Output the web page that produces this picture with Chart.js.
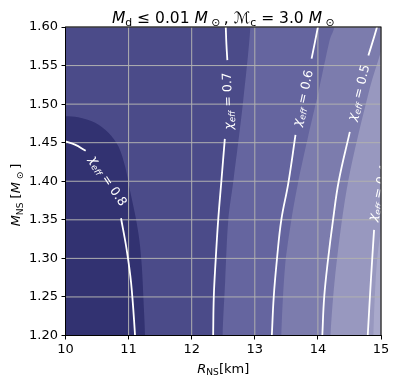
<!DOCTYPE html>
<html>
<head>
<meta charset="utf-8">
<script src="https://cdn.jsdelivr.net/npm/chart.js@4.4.0/dist/chart.umd.min.js"></script>
<style>
  html, body { margin: 0; padding: 0; background: #fff; }
  #wrap { width: 398px; height: 384px; }
</style>
</head>
<body>
<div id="wrap"><canvas id="chiChart" width="398" height="384"></canvas></div>
<script>
// contour lines of chi_eff, points are [R_NS km, M_NS Msun], split where the inline label sits
const chi08Upper = [[9.97, 1.4525], [10.15, 1.4474], [10.32, 1.4396]];
const chi08Lower = [[10.88, 1.352], [10.97, 1.311], [11.04, 1.268], [11.10, 1.203], [11.105, 1.19]];
const chi07Upper = [[12.535, 1.61], [12.54, 1.60], [12.55, 1.578], [12.565, 1.557]];
const chi07Lower = [[12.525, 1.455], [12.47, 1.40], [12.42, 1.35], [12.38, 1.298], [12.35, 1.25], [12.34, 1.20], [12.338, 1.19]];
const chi06Upper = [[14.02, 1.61], [14.0, 1.60], [13.9, 1.559]];
const chi06Lower = [[13.645, 1.46], [13.53, 1.397], [13.42, 1.35], [13.35, 1.298], [13.30, 1.25], [13.27, 1.20], [13.265, 1.19]];
const chi05Upper = [[14.96, 1.61], [14.93, 1.598], [14.80, 1.563]];
const chi05Lower = [[14.506, 1.464], [14.33, 1.40], [14.24, 1.35], [14.16, 1.298], [14.10, 1.25], [14.07, 1.20], [14.065, 1.19]];
const chi04Lower = [[14.89, 1.337], [14.84, 1.272], [14.79, 1.20], [14.785, 1.19]];

// edges of the filled bands (everything left of an edge is darker)
const fill08 = [[11.26, 1.2], [11.236, 1.246], [11.21, 1.289], [11.17, 1.324], [11.11, 1.354], [11.02, 1.389],
  [10.945, 1.419], [10.84, 1.445], [10.68, 1.463], [10.47, 1.476], [10.2, 1.483], [9.9, 1.4845]];
const fill07 = [[12.49, 1.2], [12.53, 1.27], [12.58, 1.35], [12.66, 1.40], [12.81, 1.5], [12.93, 1.6]];
const fill06 = [[13.42, 1.2], [13.48, 1.29], [13.58, 1.35], [13.69, 1.40], [13.85, 1.46], [14.02, 1.52], [14.19, 1.584], [14.26, 1.6]];
const fill05 = [[14.2, 1.2], [14.29, 1.29], [14.48, 1.40], [14.82, 1.52], [15.1, 1.6]];
const fill04 = [[14.88, 1.2], [14.93, 1.29], [15.02, 1.35], [15.2, 1.45], [15.4, 1.6]];

// inline labels
const chiLevels = ["0.8", "0.7", "0.6", "0.5", "0.4"];
const labelR = [10.681, 12.564, 13.753, 14.637, 14.95];
const labelM = [1.401, 1.504, 1.508, 1.515, 1.385];
const labelAngle = [56.5, -92, -77.4, -75.6, -77];

const xTicks = [10, 11, 12, 13, 14, 15];

const bandColors = ["rgb(50,50,113)", "rgb(75,75,137)", "rgb(101,101,159)", "rgb(124,124,173)", "rgb(152,152,191)", "rgb(169,169,203)"];
const FONT = '"DejaVu Sans", sans-serif';

function pts(arr) {
  return arr.map(p => ({ x: p[0], y: p[1] }));
}

// close a band edge round the left side of the plot
function band(edge, color, order, gridAfter) {
  const first = edge[0], last = edge[edge.length - 1];
  const data = [{ x: 9, y: 1.15 }, { x: first[0], y: 1.15 }].concat(pts(edge));
  if (last[1] >= 1.6) data.push({ x: last[0], y: 1.65 }, { x: 9, y: 1.65 });
  else data.push({ x: 9, y: last[1] });
  return {
    data: data, showLine: true, fill: "shape", backgroundColor: color,
    borderColor: "rgba(0,0,0,0)", borderWidth: 1, pointRadius: 0, tension: 0.3,
    order: order, gridAfter: gridAfter
  };
}

function contour(arr) {
  return {
    data: pts(arr), showLine: true, fill: false, borderColor: "#ffffff",
    borderWidth: 1.8, pointRadius: 0, tension: 0.4, order: 0
  };
}

// rich text: runs of [text, style], style n / i / sn / si
function runFont(style, size) {
  const sub = style[0] === "s";
  const it = style.indexOf("i") >= 0;
  return (it ? "italic " : "") + (sub ? size * 0.7 : size) + "px " + FONT;
}
function richWidth(ctx, runs, size) {
  let w = 0;
  runs.forEach(r => { ctx.font = runFont(r[1], size); w += ctx.measureText(r[0]).width; });
  return w;
}
function drawRich(ctx, runs, size, color) {
  // draws centred on (0,0) baseline at 0
  let x = -richWidth(ctx, runs, size) / 2;
  ctx.fillStyle = color;
  ctx.textBaseline = "alphabetic";
  ctx.textAlign = "left";
  runs.forEach(r => {
    ctx.font = runFont(r[1], size);
    const dy = r[1][0] === "s" ? size * 0.22 : 0;
    ctx.fillText(r[0], x, dy);
    x += ctx.measureText(r[0]).width;
  });
}

const chiPlugin = {
  id: "chiPlugin",
  beforeDraw(chart) {
    const { ctx, chartArea: a } = chart;
    ctx.save();
    ctx.fillStyle = bandColors[5];
    ctx.fillRect(a.left, a.top, a.right - a.left, a.bottom - a.top);
    ctx.restore();
  },
  afterDatasetDraw(chart, args) {
    if (!chart.data.datasets[args.index].gridAfter) return;
    const { ctx, chartArea: a, scales } = chart;
    ctx.save();
    ctx.strokeStyle = "#b0b0b0";
    ctx.lineWidth = 1;
    ctx.beginPath();
    scales.x.ticks.forEach(t => {
      const px = scales.x.getPixelForValue(t.value);
      ctx.moveTo(px, a.top); ctx.lineTo(px, a.bottom);
    });
    scales.y.ticks.forEach(t => {
      const py = scales.y.getPixelForValue(t.value);
      ctx.moveTo(a.left, py); ctx.lineTo(a.right, py);
    });
    ctx.stroke();
    ctx.restore();
  },
  afterDatasetsDraw(chart) {
    const { ctx, chartArea: a, scales } = chart;
    ctx.save();
    ctx.beginPath();
    ctx.rect(a.left, a.top, a.right - a.left, a.bottom - a.top);
    ctx.clip();
    chiLevels.forEach((lv, i) => {
      ctx.save();
      ctx.translate(scales.x.getPixelForValue(labelR[i]), scales.y.getPixelForValue(labelM[i]));
      ctx.rotate(labelAngle[i] * Math.PI / 180);
      ctx.translate(0, 4.5);
      drawRich(ctx, [["\u03c7", "i"], ["eff", "si"], [" = " + lv, "n"]], 12.5, "#ffffff");
      ctx.restore();
    });
    ctx.restore();
    ctx.save();
    ctx.strokeStyle = "#000";
    ctx.lineWidth = 1;
    ctx.strokeRect(a.left, a.top, a.right - a.left, a.bottom - a.top);
    ctx.restore();
  },
  afterDraw(chart) {
    const { ctx, chartArea: a } = chart;
    const cx = (a.left + a.right) / 2;
    ctx.save();
    ctx.translate(cx, 22.5);
    drawRich(ctx, [["M", "i"], ["d", "sn"], [" \u2264 0.01 ", "n"], ["M", "i"], [" \u2299 ", "sn"], [", ", "n"],
      ["\u2133", "n"], ["c", "sn"], [" = 3.0 ", "n"], ["M", "i"], [" \u2299", "sn"]], 15.5, "#000");
    ctx.restore();
    ctx.save();
    ctx.translate(cx, 372.5);
    drawRich(ctx, [["R", "i"], ["NS", "sn"], ["[km]", "n"]], 13, "#000");
    ctx.restore();
    ctx.save();
    ctx.translate(20, 195);
    ctx.rotate(-Math.PI / 2);
    drawRich(ctx, [["M", "i"], ["NS", "sn"], [" [", "n"], ["M", "i"], [" \u2299 ", "sn"], ["]", "n"]], 13, "#000");
    ctx.restore();
  }
};

const datasets = [
  band(fill04, bandColors[4], 14, false),
  band(fill05, bandColors[3], 13, false),
  band(fill06, bandColors[2], 12, false),
  band(fill07, bandColors[1], 11, false),
  band(fill08, bandColors[0], 10, true),
  contour(chi08Upper), contour(chi08Lower),
  contour(chi07Upper), contour(chi07Lower),
  contour(chi06Upper), contour(chi06Lower),
  contour(chi05Upper), contour(chi05Lower),
  contour(chi04Lower)
];

new Chart(document.getElementById("chiChart"), {
  type: "scatter",
  data: { datasets: datasets },
  plugins: [chiPlugin],
  options: {
    responsive: false,
    animation: false,
    devicePixelRatio: 1,
    layout: { padding: { left: 0, right: 17, top: 27, bottom: 0 } },
    elements: { line: { capBezierPoints: false } },
    plugins: { legend: { display: false }, tooltip: { enabled: false }, title: { display: false } },
    scales: {
      x: {
        type: "linear", min: 10, max: 15,
        afterBuildTicks: s => { s.ticks = xTicks.map(v => ({ value: v })); },
        afterFit: s => { s.height = 48.5; },
        grid: { color: "rgba(0,0,0,0)", drawOnChartArea: false, tickColor: "#000", tickLength: 4 },
        border: { color: "#000" },
        ticks: { color: "#000", font: { family: FONT, size: 13 }, padding: 2, maxRotation: 0 }
      },
      y: {
        type: "linear", min: 1.2, max: 1.6,
        ticks: { stepSize: 0.05, color: "#000", font: { family: FONT, size: 13 }, padding: 3.5,
          callback: v => v.toFixed(2) },
        afterFit: s => { s.width = 65.5; },
        grid: { color: "rgba(0,0,0,0)", drawOnChartArea: false, tickColor: "#000", tickLength: 4 },
        border: { color: "#000" }
      }
    }
  }
});
</script>
</body>
</html>
